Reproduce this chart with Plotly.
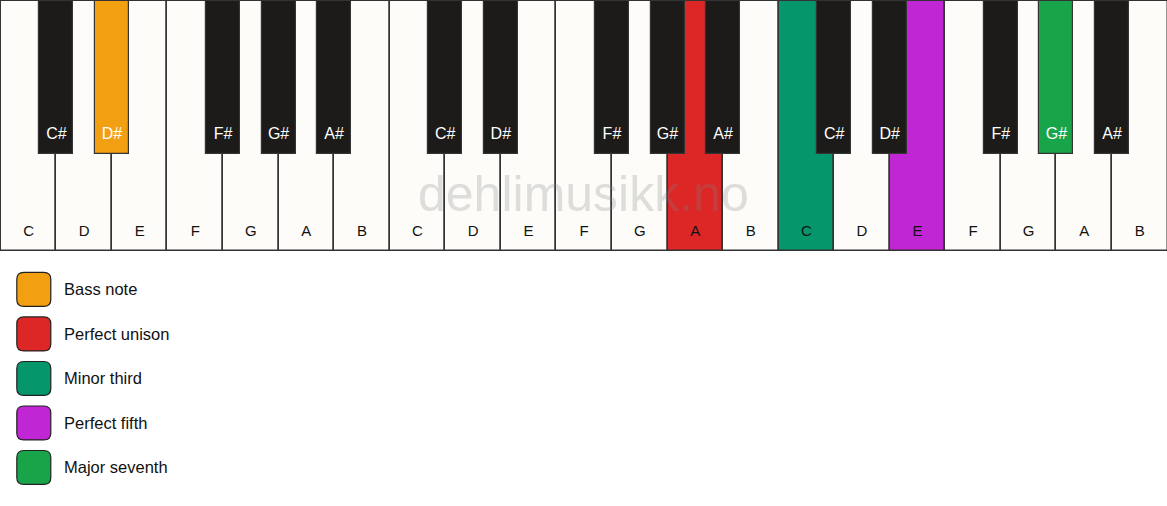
import plotly.graph_objects as go

# keyboard data: three octaves, C to B
white_notes = ['C', 'D', 'E', 'F', 'G', 'A', 'B'] * 3
black_notes = ['C#', 'D#', 'F#', 'G#', 'A#'] * 3
black_slots = [1, 2, 4, 5, 6]   # white-key boundary each black key sits on

# highlighted keys: (octave, note) -> interval
white_marks = {(1, 'A'): 'Perfect unison', (2, 'C'): 'Minor third', (2, 'E'): 'Perfect fifth'}
black_marks = {(0, 'D#'): 'Bass note', (2, 'G#'): 'Major seventh'}

legend_labels = ['Bass note', 'Perfect unison', 'Minor third', 'Perfect fifth', 'Major seventh']
legend_colors = ['#F39F12', '#DD2727', '#05966B', '#C026D3', '#18A54A']
color_of = dict(zip(legend_labels, legend_colors))

KW = 55.56     # white key width (px)
KH = 250       # white key height
BW = 34        # black key width
BH = 153       # black key height
IVORY = '#FDFCF9'
EBONY = '#1C1B1A'
EDGE = '#333333'
FONT = 'Liberation Sans, Arial, sans-serif'

# white keys
wx, wcol = [], []
for i, n in enumerate(white_notes):
    wx.append((i + 0.5) * KW)
    wcol.append(color_of.get(white_marks.get((i // 7, n)), IVORY))

# black keys
bx, bcol = [], []
for j, n in enumerate(black_notes):
    octv = j // 5
    bx.append((octv * 7 + black_slots[j % 5]) * KW)
    bcol.append(color_of.get(black_marks.get((octv, n)), EBONY))

fig = go.Figure()

fig.add_trace(go.Bar(
    x=wx, y=[KH] * len(wx), base=0, width=KW,
    marker=dict(color=wcol, line=dict(color=EDGE, width=1.5)),
    hoverinfo='skip', showlegend=False
))
fig.add_trace(go.Bar(
    x=bx, y=[BH] * len(bx), base=0, width=BW,
    marker=dict(color=bcol, line=dict(color=EDGE, width=1.2)),
    hoverinfo='skip', showlegend=False
))

# key names
fig.add_trace(go.Scatter(
    x=wx, y=[231.5] * len(wx), text=white_notes, mode='text',
    textfont=dict(family=FONT, size=15, color='#111111'),
    hoverinfo='skip', showlegend=False
))
fig.add_trace(go.Scatter(
    x=bx, y=[134] * len(bx), text=black_notes, mode='text',
    textfont=dict(family=FONT, size=16, color='#FFFFFF'),
    hoverinfo='skip', showlegend=False
))

# legend: rounded swatches with labels
def rounded_rect(x0, y0, x1, y1, r):
    return (f'M{x0+r},{y0} L{x1-r},{y0} Q{x1},{y0} {x1},{y0+r} '
            f'L{x1},{y1-r} Q{x1},{y1} {x1-r},{y1} L{x0+r},{y1} '
            f'Q{x0},{y1} {x0},{y1-r} L{x0},{y0+r} Q{x0},{y0} {x0+r},{y0} Z')

for k, (lab, col) in enumerate(zip(legend_labels, legend_colors)):
    yc = 289 + k * 44.6
    fig.add_shape(type='path', xref='x', yref='y',
                  path=rounded_rect(16, yc - 17, 50, yc + 17, 7),
                  fillcolor=col, line=dict(color='#222222', width=1.2))
    fig.add_annotation(x=61, y=yc, text=lab, xanchor='left', yanchor='middle',
                       showarrow=False, font=dict(family=FONT, size=16.5, color='#111111'))

# watermark
fig.add_annotation(x=583, y=193, text='dehlimusikk.no', showarrow=False,
                   xanchor='center', yanchor='middle',
                   font=dict(family=FONT, size=50, color='rgba(128,128,128,0.25)'))

fig.update_layout(
    width=1167, height=506,
    margin=dict(l=0, r=0, t=0, b=0),
    paper_bgcolor='white', plot_bgcolor='white',
    barmode='overlay', bargap=0,
    xaxis=dict(range=[-0.8, 1166.2], visible=False, fixedrange=True),
    yaxis=dict(range=[506, -1], visible=False, fixedrange=True),
)

# drop the browser's default body margin so the figure sits at the page corner
fig.write_html('out.html', config={'displayModeBar': False},
               post_script="document.body.style.margin='0';")
